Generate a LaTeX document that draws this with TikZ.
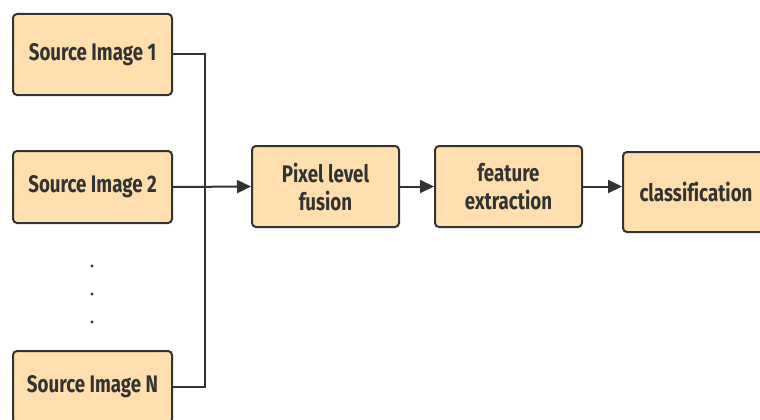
\documentclass[tikz,border=0pt]{standalone}
\usepackage{fontspec}
\setmainfont{Fira Sans}[FakeStretch=0.78,Ligatures=NoCommon]
\usepackage{tikz}
\usetikzlibrary{arrows.meta}

\definecolor{boxfill}{HTML}{FFDFAE}
\definecolor{ink}{HTML}{333333}

\begin{document}
\begin{tikzpicture}[x=1pt,y=-1pt,
	block/.style={draw=ink,line width=2pt,fill=boxfill,rounded corners=4pt,text=ink,
		font=\fontsize{24}{28}\selectfont\bfseries,align=center,inner sep=0pt},
	link/.style={draw=ink,line width=2pt},
	arr/.style={link,-{Triangle[length=14pt,width=13pt]}}]

\clip (0,0) rectangle (760,420);

% inputs
\node[block,minimum width=159pt,minimum height=81pt] (src1) at (92.5,54.5) {Source Image 1};
\node[block,minimum width=159pt,minimum height=72pt] (src2) at (92.5,187) {Source Image 2};
\node[block,minimum width=159pt,minimum height=72pt] (srcN) at (92.5,387) {Source Image N};
\foreach \y in {266,294,322}
	\fill[ink] (92,\y) circle (1.6);

% pipeline
\node[block,minimum width=147pt,minimum height=81pt] (pix) at (325.5,186.5) {Pixel level\\fusion};
\node[block,minimum width=147pt,minimum height=81pt] (feat) at (508.5,186.5) {feature\\extraction};
\node[block,minimum width=146pt,minimum height=80pt] (cls) at (696,192) {classification};

% bus collecting the sources
\coordinate (bus) at (205,0);
\draw[link] (src1.east) -- (src1.east -| bus) -- (srcN.east -| bus) -- (srcN.east);
\draw[arr] (src2.east) -- (pix.west);
\draw[arr] (pix.east) -- (feat.west);
\draw[arr] (feat.east) -- (feat.east -| cls.west);

\end{tikzpicture}
\end{document}
